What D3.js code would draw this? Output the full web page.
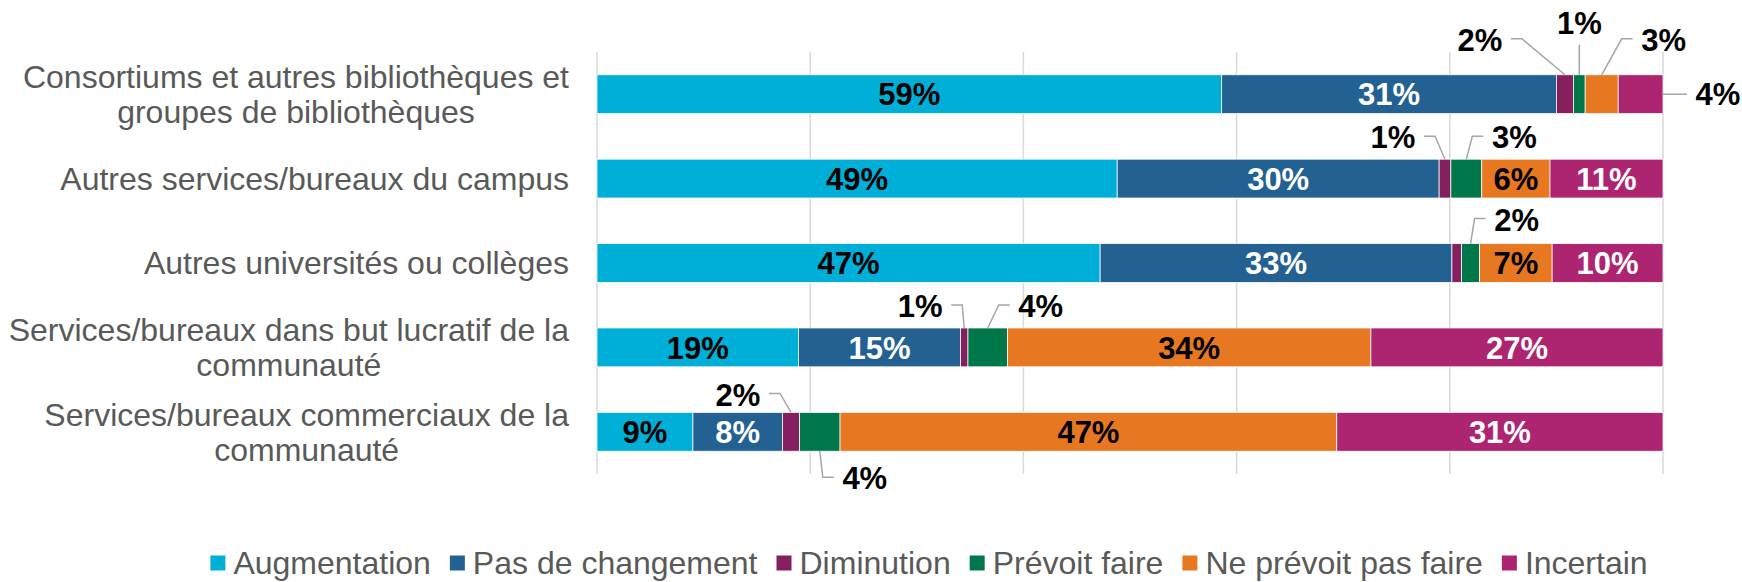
<!DOCTYPE html>
<html>
<head>
<meta charset="utf-8">
<script src="https://cdn.jsdelivr.net/npm/d3@7"></script>
<style>
    body { margin: 0; background: #fff; }
    text { font-family: "Liberation Sans", Arial, sans-serif; }
</style>
</head>
<body>
<div id="chart"></div>
<script>
const categories = [
    ["Consortiums et autres bibliothèques et", "groupes de bibliothèques"],
    ["Autres services/bureaux du campus"],
    ["Autres universités ou collèges"],
    ["Services/bureaux dans but lucratif de la", "communauté"],
    ["Services/bureaux commerciaux de la", "communauté"]
];
const seriesNames = ["Augmentation", "Pas de changement", "Diminution", "Prévoit faire", "Ne prévoit pas faire", "Incertain"];
const augmentation = [58.6, 48.8, 47.2, 18.9, 9.0];
const pasDeChangement = [31.4, 30.2, 33.0, 15.2, 8.4];
const diminution = [1.6, 1.1, 0.9, 0.7, 1.6];
const prevoitFaire = [1.1, 2.9, 1.7, 3.7, 3.8];
const nePrevoitPasFaire = [3.1, 6.4, 6.8, 34.1, 46.6];
const incertain = [4.2, 10.6, 10.4, 27.4, 30.6];
const xTicks = [0, 20, 40, 60, 80, 100];

const colors = ["#00afd7", "#236192", "#861f5e", "#00774a", "#e87722", "#ad2571"];
const whiteText = new Set(["Pas de changement", "Incertain"]);

// labels for the thin segments sit outside the bar, with a leader line
// anchor: top / bottom of the segment or end of the bar; dx, dy: label centre from anchor
const callouts = [
    {row: 0, key: "Diminution", anchor: "top", dx: -85, dy: -35},
    {row: 0, key: "Prévoit faire", anchor: "top", dx: 0, dy: -52},
    {row: 0, key: "Ne prévoit pas faire", anchor: "top", dx: 62, dy: -35},
    {row: 0, key: "Incertain", anchor: "end", dx: 55, dy: 0},
    {row: 1, key: "Diminution", anchor: "top", dx: -52, dy: -22},
    {row: 1, key: "Prévoit faire", anchor: "top", dx: 48, dy: -22},
    {row: 2, key: "Prévoit faire", anchor: "top", dx: 46, dy: -24},
    {row: 3, key: "Diminution", anchor: "top", dx: -44, dy: -22},
    {row: 3, key: "Prévoit faire", anchor: "top", dx: 53, dy: -22},
    {row: 4, key: "Diminution", anchor: "top", dx: -53, dy: -18},
    {row: 4, key: "Prévoit faire", anchor: "bottom", dx: 45, dy: 27}
];

const width = 1742;
const height = 582;
const plot = {left: 597, right: 1663, top: 52, bottom: 474};

const rows = categories.map((c, i) => ({
    id: i,
    "Augmentation": augmentation[i],
    "Pas de changement": pasDeChangement[i],
    "Diminution": diminution[i],
    "Prévoit faire": prevoitFaire[i],
    "Ne prévoit pas faire": nePrevoitPasFaire[i],
    "Incertain": incertain[i]
}));

const stacked = d3.stack().keys(seriesNames)(rows);
const pct = v => Math.round(v) + "%";

const xScale = d3.scaleLinear()
    .domain([0, 100])
    .range([plot.left, plot.right]);

const yScale = d3.scaleBand()
    .domain(rows.map(d => d.id))
    .range([plot.top, plot.bottom])
    .paddingInner(0.54)
    .paddingOuter(0.27);

const colorScale = d3.scaleOrdinal()
    .domain(seriesNames)
    .range(colors);

const svg = d3.select("#chart")
    .append("svg")
    .attr("width", width)
    .attr("height", height);

// vertical gridlines
svg.append("g")
    .selectAll("line")
    .data(xTicks)
    .join("line")
    .attr("x1", d => xScale(d))
    .attr("x2", d => xScale(d))
    .attr("y1", plot.top)
    .attr("y2", plot.bottom)
    .attr("stroke", "#d9d9d9")
    .attr("stroke-width", 1.5);

// bars
const layers = svg.append("g")
    .selectAll("g")
    .data(stacked)
    .join("g")
    .attr("fill", d => colorScale(d.key));

layers.selectAll("rect")
    .data(d => d)
    .join("rect")
    .attr("x", d => xScale(d[0]))
    .attr("y", d => yScale(d.data.id))
    .attr("width", d => xScale(d[1]) - xScale(d[0]))
    .attr("height", yScale.bandwidth())
    .attr("stroke", "#fff")
    .attr("stroke-width", 0.75);

// labels inside the wide segments
const inside = [];
stacked.forEach(layer => {
    layer.forEach(seg => {
        const v = seg[1] - seg[0];
        if (v >= 5) inside.push({key: layer.key, seg, v});
    });
});

svg.append("g")
    .selectAll("text")
    .data(inside)
    .join("text")
    .attr("x", d => xScale((d.seg[0] + d.seg[1]) / 2))
    .attr("y", d => yScale(d.seg.data.id) + yScale.bandwidth() / 2)
    .attr("dy", "0.36em")
    .attr("text-anchor", "middle")
    .attr("font-size", 31)
    .attr("font-weight", "bold")
    .attr("fill", d => whiteText.has(d.key) ? "#fff" : "#000")
    .text(d => pct(d.v));

// callout labels with leader lines
const calloutG = svg.append("g");
callouts.forEach(c => {
    const seg = stacked.find(l => l.key === c.key)[c.row];
    const y0 = yScale(c.row);
    let ax, ay;
    if (c.anchor === "end") {
        ax = xScale(seg[1]);
        ay = y0 + yScale.bandwidth() / 2;
    } else {
        ax = xScale((seg[0] + seg[1]) / 2);
        ay = c.anchor === "top" ? y0 : y0 + yScale.bandwidth();
    }
    const lx = ax + c.dx;
    const ly = ay + c.dy;
    let pts;
    if (c.dx === 0) {
        pts = [[ax, ay], [ax, ly + 22]];
    } else if (c.dy === 0) {
        pts = [[ax, ay], [lx - Math.sign(c.dx) * 31, ly]];
    } else {
        const s = Math.sign(c.dx);
        const ex = lx - s * 31;
        pts = [[ax, ay], [ex - s * 11, ly - 1], [ex, ly - 1]];
    }
    calloutG.append("path")
        .attr("d", d3.line()(pts))
        .attr("fill", "none")
        .attr("stroke", "#a6a6a6")
        .attr("stroke-width", 1.5);
    calloutG.append("text")
        .attr("x", lx)
        .attr("y", ly)
        .attr("dy", "0.36em")
        .attr("text-anchor", "middle")
        .attr("font-size", 31)
        .attr("font-weight", "bold")
        .attr("fill", "#000")
        .text(pct(seg[1] - seg[0]));
});

// category labels, lines centred on each other, block right-aligned
const labelRight = 569;
const lineH = 35;
categories.forEach((lines, i) => {
    const t = svg.append("text")
        .attr("font-size", 32)
        .attr("fill", "#595959")
        .attr("text-anchor", "middle");
    const cy = yScale(i) + yScale.bandwidth() / 2;
    const spans = lines.map((ln, j) => t.append("tspan")
        .attr("y", cy + (j - (lines.length - 1) / 2) * lineH)
        .attr("dy", "0.35em")
        .text(ln));
    const maxW = d3.max(spans, s => s.node().getComputedTextLength());
    spans.forEach(s => s.attr("x", labelRight - maxW / 2));
});

// legend
const legendY = 563;
const sq = 15;
const legend = svg.append("g");
const items = seriesNames.map(name => {
    const g = legend.append("g");
    g.append("rect")
        .attr("y", legendY - sq / 2)
        .attr("width", sq)
        .attr("height", sq)
        .attr("fill", colorScale(name));
    const t = g.append("text")
        .attr("x", sq + 8)
        .attr("y", legendY)
        .attr("dy", "0.35em")
        .attr("font-size", 32)
        .attr("fill", "#595959")
        .text(name);
    return {g, w: sq + 8 + t.node().getComputedTextLength()};
});
const gap = 19;
const total = d3.sum(items, d => d.w) + gap * (items.length - 1);
let cx = 929 - total / 2;
items.forEach(it => {
    it.g.attr("transform", `translate(${cx},0)`);
    cx += it.w + gap;
});
</script>
</body>
</html>
